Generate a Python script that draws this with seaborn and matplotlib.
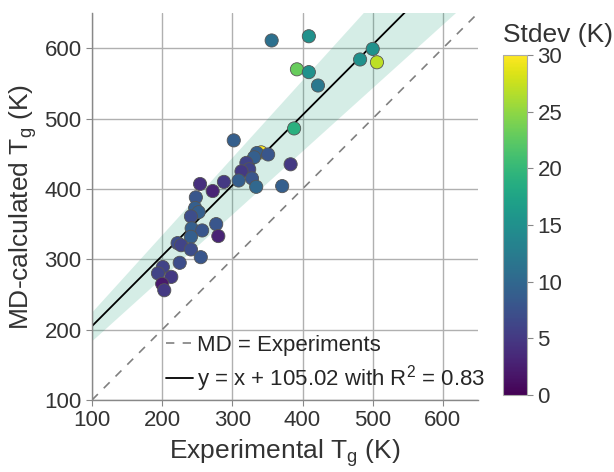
import numpy as np
import pandas as pd
import matplotlib
matplotlib.use("Agg")
import matplotlib.pyplot as plt
import seaborn as sns

# values
exp_tg = [356, 409, 500, 482, 506, 392, 409, 422, 388, 383, 371, 302,
          341, 335, 351, 331, 320, 324, 313, 328, 334, 309, 288, 254,
          272, 248, 247, 252, 241, 277, 280, 242, 257, 241, 222, 227,
          241, 255, 225, 201, 194, 213, 200, 203]
md_tg = [611, 617, 599, 584, 580, 570, 566, 547, 486, 435, 404, 469,
         452, 451, 449, 445, 437, 428, 425, 415, 403, 412, 410, 407,
         397, 388, 373, 367, 361, 350, 333, 344, 341, 332, 323, 320,
         314, 303, 295, 289, 280, 275, 265, 256]
stdev = [11, 15, 15, 15, 27, 23, 15, 12, 19, 5, 9, 9,
         30, 9, 8, 9, 6, 6, 5, 8, 10, 9, 5, 4,
         3, 8, 9, 9, 7, 8, 3, 9, 8, 9, 7, 6,
         7, 8, 7, 6, 6, 5, 2, 5]

offset = 105.02
r2 = 0.83
lims = [100, 650]
xticks = [100, 200, 300, 400, 500, 600]
cbar_ticks = [0, 5, 10, 15, 20, 25, 30]

df = pd.DataFrame({"exp": exp_tg, "md": md_tg, "std": stdev})

sns.set_style("whitegrid")
plt.rcParams["font.family"] = ["Liberation Sans", "DejaVu Sans"]
plt.rcParams["mathtext.fontset"] = "custom"
plt.rcParams["mathtext.rm"] = "Liberation Sans"
plt.rcParams["mathtext.it"] = "Liberation Sans"
plt.rcParams["mathtext.default"] = "regular"

fig = plt.figure(figsize=(6.14, 4.72), dpi=100)
ax = fig.add_axes([0.1498, 0.1525, 0.6287, 0.8199])
cax = fig.add_axes([0.8192, 0.1631, 0.0391, 0.7203])

xs = np.array(lims, dtype=float)
fit = xs + offset
ax.fill_between(xs, 0.9 * fit, 1.1 * fit, color="#1b9e77", alpha=0.18, lw=0, zorder=1)
ax.plot(xs, xs, ls=(0, (5, 5)), color="grey", lw=1.2, label="MD = Experiments", zorder=2)
ax.plot(xs, fit, color="black", lw=1.3,
        label="y = x + %.2f with R$^2$ = %.2f" % (offset, r2), zorder=2)

sns.scatterplot(data=df, x="exp", y="md", hue="std", palette="viridis",
                hue_norm=(0, 30), s=90, edgecolor="#555555", linewidth=0.6,
                legend=False, ax=ax, zorder=3)

ax.set_xlim(lims)
ax.set_ylim(lims)
ax.set_xticks(xticks)
ax.set_yticks(xticks)
ax.set_xlabel("Experimental T$_{g}$ (K)", fontsize=19, color="#333333", labelpad=4)
ax.set_ylabel("MD-calculated T$_{g}$ (K)", fontsize=19, color="#333333", labelpad=4)
ax.tick_params(labelsize=16, colors="#333333", length=4, color="#888888",
               bottom=True, left=True)
ax.grid(color="#b0b0b0", lw=1)
sns.despine(ax=ax)
for sp in ["left", "bottom"]:
    ax.spines[sp].set_color("#888888")
    ax.spines[sp].set_linewidth(1)

ax.legend(loc="lower right", frameon=False, fontsize=16, handlelength=1.2,
          handletextpad=0.2, borderaxespad=0.1, labelspacing=0.35,
          bbox_to_anchor=(1.048, -0.014))

sm = plt.cm.ScalarMappable(cmap="viridis", norm=plt.Normalize(0, 30))
cb = fig.colorbar(sm, cax=cax, ticks=cbar_ticks)
cb.outline.set_edgecolor("#aaaaaa")
cb.ax.tick_params(labelsize=16, colors="#333333", length=4, color="#888888")
cb.ax.text(0.0, 1.025, "Stdev (K)", transform=cb.ax.transAxes, fontsize=19,
           color="#333333", ha="left", va="bottom")

fig.savefig("out.png", dpi=100)
